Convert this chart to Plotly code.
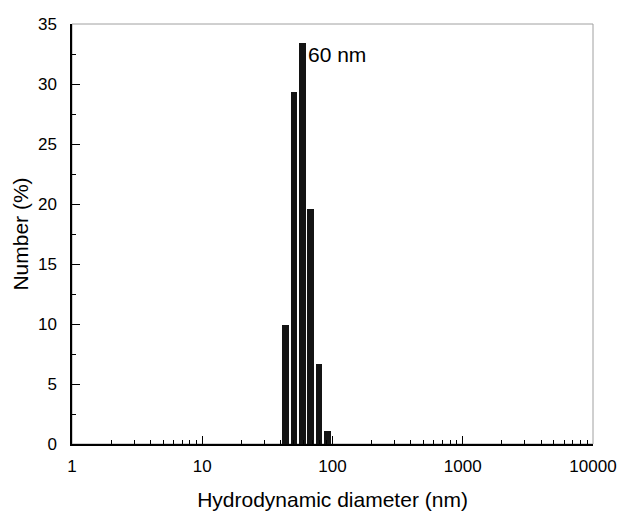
import math
import plotly.graph_objects as go

diameters = [43.82, 50.75, 58.77, 68.06, 78.82, 91.28]
number_pct = [9.9, 29.3, 33.4, 19.6, 6.7, 1.1]
peak_label = "60 nm"
peak_label_pos = 63.0
x_ticks = [1, 10, 100, 1000, 10000]
x_ticktext = ["1", "10", "100", "1000", "10000"]

half = 0.0257  # half bar width in decades
bar_widths = [d * (10 ** half - 10 ** -half) for d in diameters]

fig = go.Figure()
fig.add_trace(go.Bar(
    x=diameters, y=number_pct, width=bar_widths,
    marker=dict(color="#141414", line=dict(width=0)),
))

fig.add_shape(type="rect", xref="paper", yref="paper", x0=0, x1=1, y0=0, y1=1,
              line=dict(color="#a0a0a0", width=1), layer="below")

fig.add_annotation(x=math.log10(peak_label_pos), y=32.5, xref="x", yref="y", text=peak_label,
                   showarrow=False, xanchor="left", yanchor="middle",
                   font=dict(size=21, color="black", family="Liberation Sans, Arial"))

fig.update_layout(
    width=619, height=511,
    margin=dict(l=72, r=26, t=24, b=67, autoexpand=False),
    paper_bgcolor="white", plot_bgcolor="white",
    showlegend=False, bargap=0,
    font=dict(family="Liberation Sans, Arial", color="black"),
)
fig.update_xaxes(
    type="log", range=[0, 4], automargin=False,
    tickvals=x_ticks, ticktext=x_ticktext,
    ticks="inside", ticklen=8, tickwidth=1.2, tickcolor="black",
    showline=True, linecolor="black", linewidth=1.5,
    showgrid=False, zeroline=False,
    tickfont=dict(size=17), ticklabelstandoff=6,
    minor=dict(ticks="inside", ticklen=4, tickcolor="black", dtick="D1", showgrid=False),
    title=dict(text="Hydrodynamic diameter (nm)", font=dict(size=21), standoff=24),
)
fig.update_yaxes(
    range=[0, 35], dtick=5, automargin=False,
    ticks="inside", ticklen=8, tickwidth=1.2, tickcolor="black",
    showline=True, linecolor="black", linewidth=1.5,
    showgrid=False, zeroline=False,
    tickfont=dict(size=17), ticklabelstandoff=10,
    minor=dict(ticks="inside", ticklen=4, tickcolor="black", dtick=2.5, showgrid=False),
    title=dict(text="Number (%)", font=dict(size=21), standoff=4),
)

fig.write_html("out.html")
